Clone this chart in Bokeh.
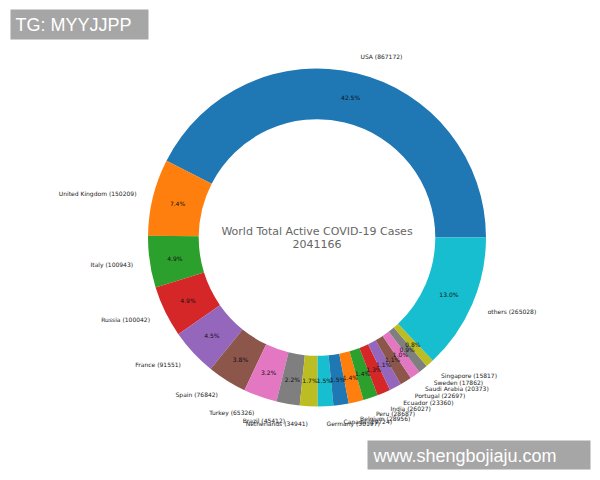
import numpy as np
from bokeh.plotting import figure
from bokeh.models import Range1d, ColumnDataSource, BoxAnnotation, Label
from bokeh.palettes import Category10_10
from bokeh.embed import file_html
from bokeh.resources import INLINE
from bokeh.core.properties import value

countries = ["USA", "United Kingdom", "Italy", "Russia", "France", "Spain", "Turkey",
             "Brazil", "Netherlands", "Germany", "Canada", "Belgium", "Peru", "India",
             "Ecuador", "Portugal", "Saudi Arabia", "Sweden", "Singapore", "others"]
active = [867172, 150209, 100943, 100042, 91551, 76842, 65326, 45412, 34941, 30197,
          29724, 28956, 28687, 26027, 23360, 22697, 20373, 17862, 15817, 265028]
title_text = "World Total Active COVID-19 Cases"
watermark_left = "TG: MYYJJPP"
watermark_right = "www.shengbojiaju.com"

W, H = 600, 480
S = 169.0             # pixels per data unit (outer radius = 1)
CX, CY = 316.5, 237   # donut centre, px from top-left of the figure

vals = np.array(active, dtype=float)
total = vals.sum()
frac = vals / total
ends = np.cumsum(frac) * 2 * np.pi
starts = ends - frac * 2 * np.pi
mids = (starts + ends) / 2
colors = [Category10_10[i % 10] for i in range(len(active))]

src = ColumnDataSource(dict(
    start=starts, end=ends, color=colors,
    px=0.85 * np.cos(mids), py=0.85 * np.sin(mids),
    pct=["%1.1f%%" % (f * 100) for f in frac],
))

lx = 1.1 * np.cos(mids)
ly = 1.1 * np.sin(mids)
right_side = lx > 0
lab_r = ColumnDataSource(dict(x=lx[right_side], y=ly[right_side],
                              t=["%s (%d)" % (c, v) for c, v, r in zip(countries, active, right_side) if r]))
lab_l = ColumnDataSource(dict(x=lx[~right_side], y=ly[~right_side],
                              t=["%s (%d)" % (c, v) for c, v, r in zip(countries, active, right_side) if not r]))

p = figure(width=W, height=H, output_backend="svg", toolbar_location=None,
           x_range=Range1d(-CX / S, (W - CX) / S), y_range=Range1d(-(H - CY) / S, CY / S),
           x_axis_location=None, y_axis_location=None, min_border=0)
p.grid.visible = False
p.outline_line_color = None

p.annular_wedge(x=0, y=0, inner_radius=0.7, outer_radius=1.0, start_angle="start",
                end_angle="end", color="color", line_color=None, source=src)
p.text(x="px", y="py", text="pct", source=src, text_align="center", text_baseline="middle",
       text_font=value("DejaVu Sans"), text_font_size="6px", text_color="#111111")
p.text(x="x", y="y", text="t", source=lab_r, text_align="left", text_baseline="middle",
       text_font=value("DejaVu Sans"), text_font_size="6px", text_color="#222222")
p.text(x="x", y="y", text="t", source=lab_l, text_align="right", text_baseline="middle",
       text_font=value("DejaVu Sans"), text_font_size="6px", text_color="#222222")

p.text(x=[0], y=[0], text=[title_text], y_offset=-6, text_align="center", text_baseline="middle",
       text_font=value("DejaVu Sans"), text_font_size="11px", text_color="#666666")
p.text(x=[0], y=[0], text=["%d" % int(total)], y_offset=6, text_align="center", text_baseline="middle",
       text_font=value("DejaVu Sans"), text_font_size="11px", text_color="#666666")


def X(px):
    return (px - CX) / S


def Y(py):
    return (CY - py) / S


p.add_layout(BoxAnnotation(left=X(10), right=X(148), top=Y(9), bottom=Y(39),
                           fill_color="#a6a6a6", fill_alpha=1.0, line_color=None))
p.add_layout(Label(x=X(15), y=Y(24.5), text=watermark_left, text_baseline="middle",
                   text_font="Liberation Sans", text_font_size="18px", text_color="white"))
p.add_layout(BoxAnnotation(left=X(367), right=X(590), top=Y(440), bottom=Y(469),
                           fill_color="#a6a6a6", fill_alpha=1.0, line_color=None))
p.add_layout(Label(x=X(373), y=Y(455), text=watermark_right, text_baseline="middle",
                   text_font="Liberation Sans", text_font_size="18px", text_color="white"))

open("out.html", "w").write(file_html(p, INLINE))
